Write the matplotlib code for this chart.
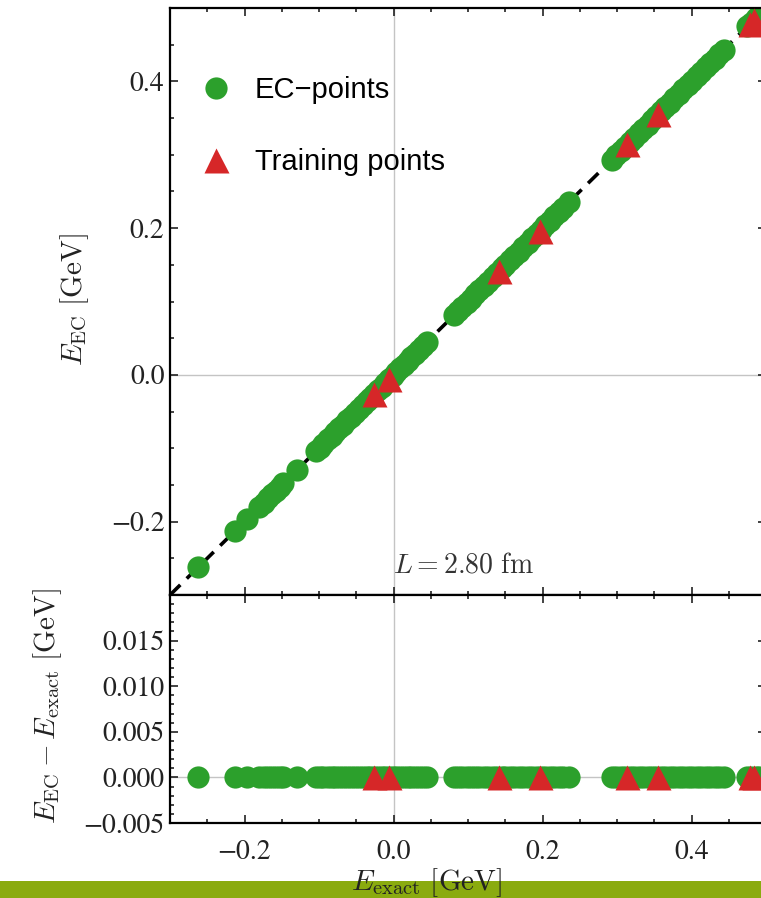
# EC emulator vs exact energies, top: parity plot, bottom: residuals
import numpy as np
import matplotlib.pyplot as plt
from matplotlib.ticker import MultipleLocator, FixedLocator, FuncFormatter
from matplotlib.lines import Line2D
from matplotlib.patches import Rectangle

plt.rcParams['font.family'] = 'STIXGeneral'
plt.rcParams['mathtext.fontset'] = 'cm'

# EC-points (E_exact in GeV)
ec_exact = [-0.262, -0.213, -0.196, -0.180, -0.174, -0.168, -0.163, -0.158, -0.153, -0.148, -0.130,
            -0.104, -0.099, -0.094, -0.088, -0.083, -0.078, -0.073, -0.068, -0.062, -0.057, -0.052,
            -0.046, -0.041, -0.036, -0.031, -0.026, -0.021, -0.016, -0.011, -0.006, -0.001, 0.004,
            0.009, 0.014, 0.019, 0.024, 0.029, 0.034, 0.039, 0.045,
            0.081, 0.087, 0.092, 0.098, 0.104, 0.110, 0.115, 0.121, 0.127, 0.133, 0.139, 0.145,
            0.150, 0.156, 0.162, 0.168, 0.174, 0.180, 0.186, 0.192, 0.198, 0.204, 0.210, 0.216,
            0.222, 0.228, 0.235,
            0.293, 0.299, 0.305, 0.311, 0.317, 0.323, 0.329, 0.335, 0.341, 0.347, 0.353, 0.359,
            0.365, 0.371, 0.377, 0.383, 0.389, 0.395, 0.401, 0.407, 0.413, 0.419, 0.425, 0.431,
            0.437, 0.443,
            0.475, 0.480, 0.486, 0.491]
# emulator values agree with exact values at the resolution of the plot
ec_emul = list(ec_exact)

# training points
tr_exact = [-0.026, -0.006, 0.142, 0.196, 0.314, 0.355, 0.478, 0.484]
tr_emul = list(tr_exact)

resid_ticks = [-0.005, 0.0, 0.005, 0.010, 0.015]

green = '#2ca02c'
red = '#d62728'
grid_col = '#c4c4c4'
ms_c = 16
ms_t = 18

fig = plt.figure(figsize=(7.61, 8.98), dpi=100)
ax1 = fig.add_axes([170/761, 1-595/898, 596/761, 587/898])
ax2 = fig.add_axes([170/761, 1-823/898, 596/761, 228/898])

def minus_fmt(fmt):
    return FuncFormatter(lambda v, p: (fmt % v).replace('-', '\u2212'))

# top panel
ax1.axhline(0, color=grid_col, lw=1, zorder=0)
ax1.axvline(0, color=grid_col, lw=1, zorder=0)
ax1.plot([-0.3, 0.5], [-0.3, 0.5], color='k', lw=2.6, dashes=(4, 2.5), zorder=1)
ax1.plot(ec_exact, ec_emul, 'o', color=green, ms=ms_c, mec='none', zorder=2)
ax1.plot(tr_exact, tr_emul, '^', color=red, ms=ms_t, mec='none', zorder=3)
ax1.set_xlim(-0.3, 0.5)
ax1.set_ylim(-0.3, 0.5)
ax1.yaxis.set_major_locator(MultipleLocator(0.2))
ax1.yaxis.set_minor_locator(MultipleLocator(0.05))
ax1.xaxis.set_major_locator(MultipleLocator(0.2))
ax1.xaxis.set_minor_locator(MultipleLocator(0.05))
ax1.yaxis.set_major_formatter(minus_fmt('%.1f'))
ax1.tick_params(labelbottom=False)
ax1.text(0.374, 0.049, r'$L = 2.80\ \mathrm{fm}$', transform=ax1.transAxes,
         fontsize=20, va='center', ha='left', color='#333333')

handles = [Line2D([], [], marker='o', ls='none', color=green, ms=ms_c, mec='none'),
           Line2D([], [], marker='^', ls='none', color=red, ms=ms_t, mec='none')]
ax1.legend(handles, ['EC\u2212points', 'Training points'], loc='upper left',
           bbox_to_anchor=(0.028, 0.909), frameon=False, borderpad=0, handlelength=1.0,
           handletextpad=0.84, labelspacing=1.5, prop={'family': 'Liberation Sans', 'size': 21})

# bottom panel: residuals
ax2.axhline(0, color=grid_col, lw=1, zorder=0)
ax2.axvline(0, color=grid_col, lw=1, zorder=0)
ax2.plot(ec_exact, np.array(ec_emul) - np.array(ec_exact), 'o', color=green, ms=ms_c, mec='none', zorder=2)
ax2.plot(tr_exact, np.array(tr_emul) - np.array(tr_exact), '^', color=red, ms=ms_t, mec='none', zorder=3)
ax2.set_xlim(-0.3, 0.5)
ax2.set_ylim(-0.005, 0.02)
ax2.xaxis.set_major_locator(MultipleLocator(0.2))
ax2.xaxis.set_minor_locator(MultipleLocator(0.05))
ax2.yaxis.set_major_locator(FixedLocator(resid_ticks))
ax2.yaxis.set_minor_locator(MultipleLocator(0.001))
ax2.xaxis.set_major_formatter(minus_fmt('%.1f'))
ax2.yaxis.set_major_formatter(minus_fmt('%.3f'))

for ax in (ax1, ax2):
    for s in ax.spines.values():
        s.set_linewidth(1.6)
    ax.tick_params(which='both', direction='in', top=True, right=True, width=1.2,
                   labelsize=20, colors='#222222')
    ax.tick_params(which='major', length=6)
    ax.tick_params(which='minor', length=3)
    ax.tick_params(axis='y', which='both', pad=4)
ax2.tick_params(axis='x', which='both', pad=12)

# axis labels
fig.text(75/761, 1-300/898, r'$E_{\mathrm{EC}}\ [\mathrm{GeV}]$', rotation=90,
         fontsize=21, ha='center', va='center', color='#222222')
fig.text(48/761, 1-706/898, r'$E_{\mathrm{EC}} - E_{\mathrm{exact}}\ [\mathrm{GeV}]$', rotation=90,
         fontsize=21, ha='center', va='center', color='#222222')

# green footer bar, label drawn on top of it
fig.patches.append(Rectangle((0, 0), 1, (898-881)/898, transform=fig.transFigure,
                             facecolor='#8aab0f', edgecolor='none', zorder=5))
fig.text(427/761, 1-883/898, r'$E_{\mathrm{exact}}\ [\mathrm{GeV}]$',
         fontsize=21, ha='center', va='center', color='#222222', zorder=6)

fig.savefig('out.png', dpi=100)
